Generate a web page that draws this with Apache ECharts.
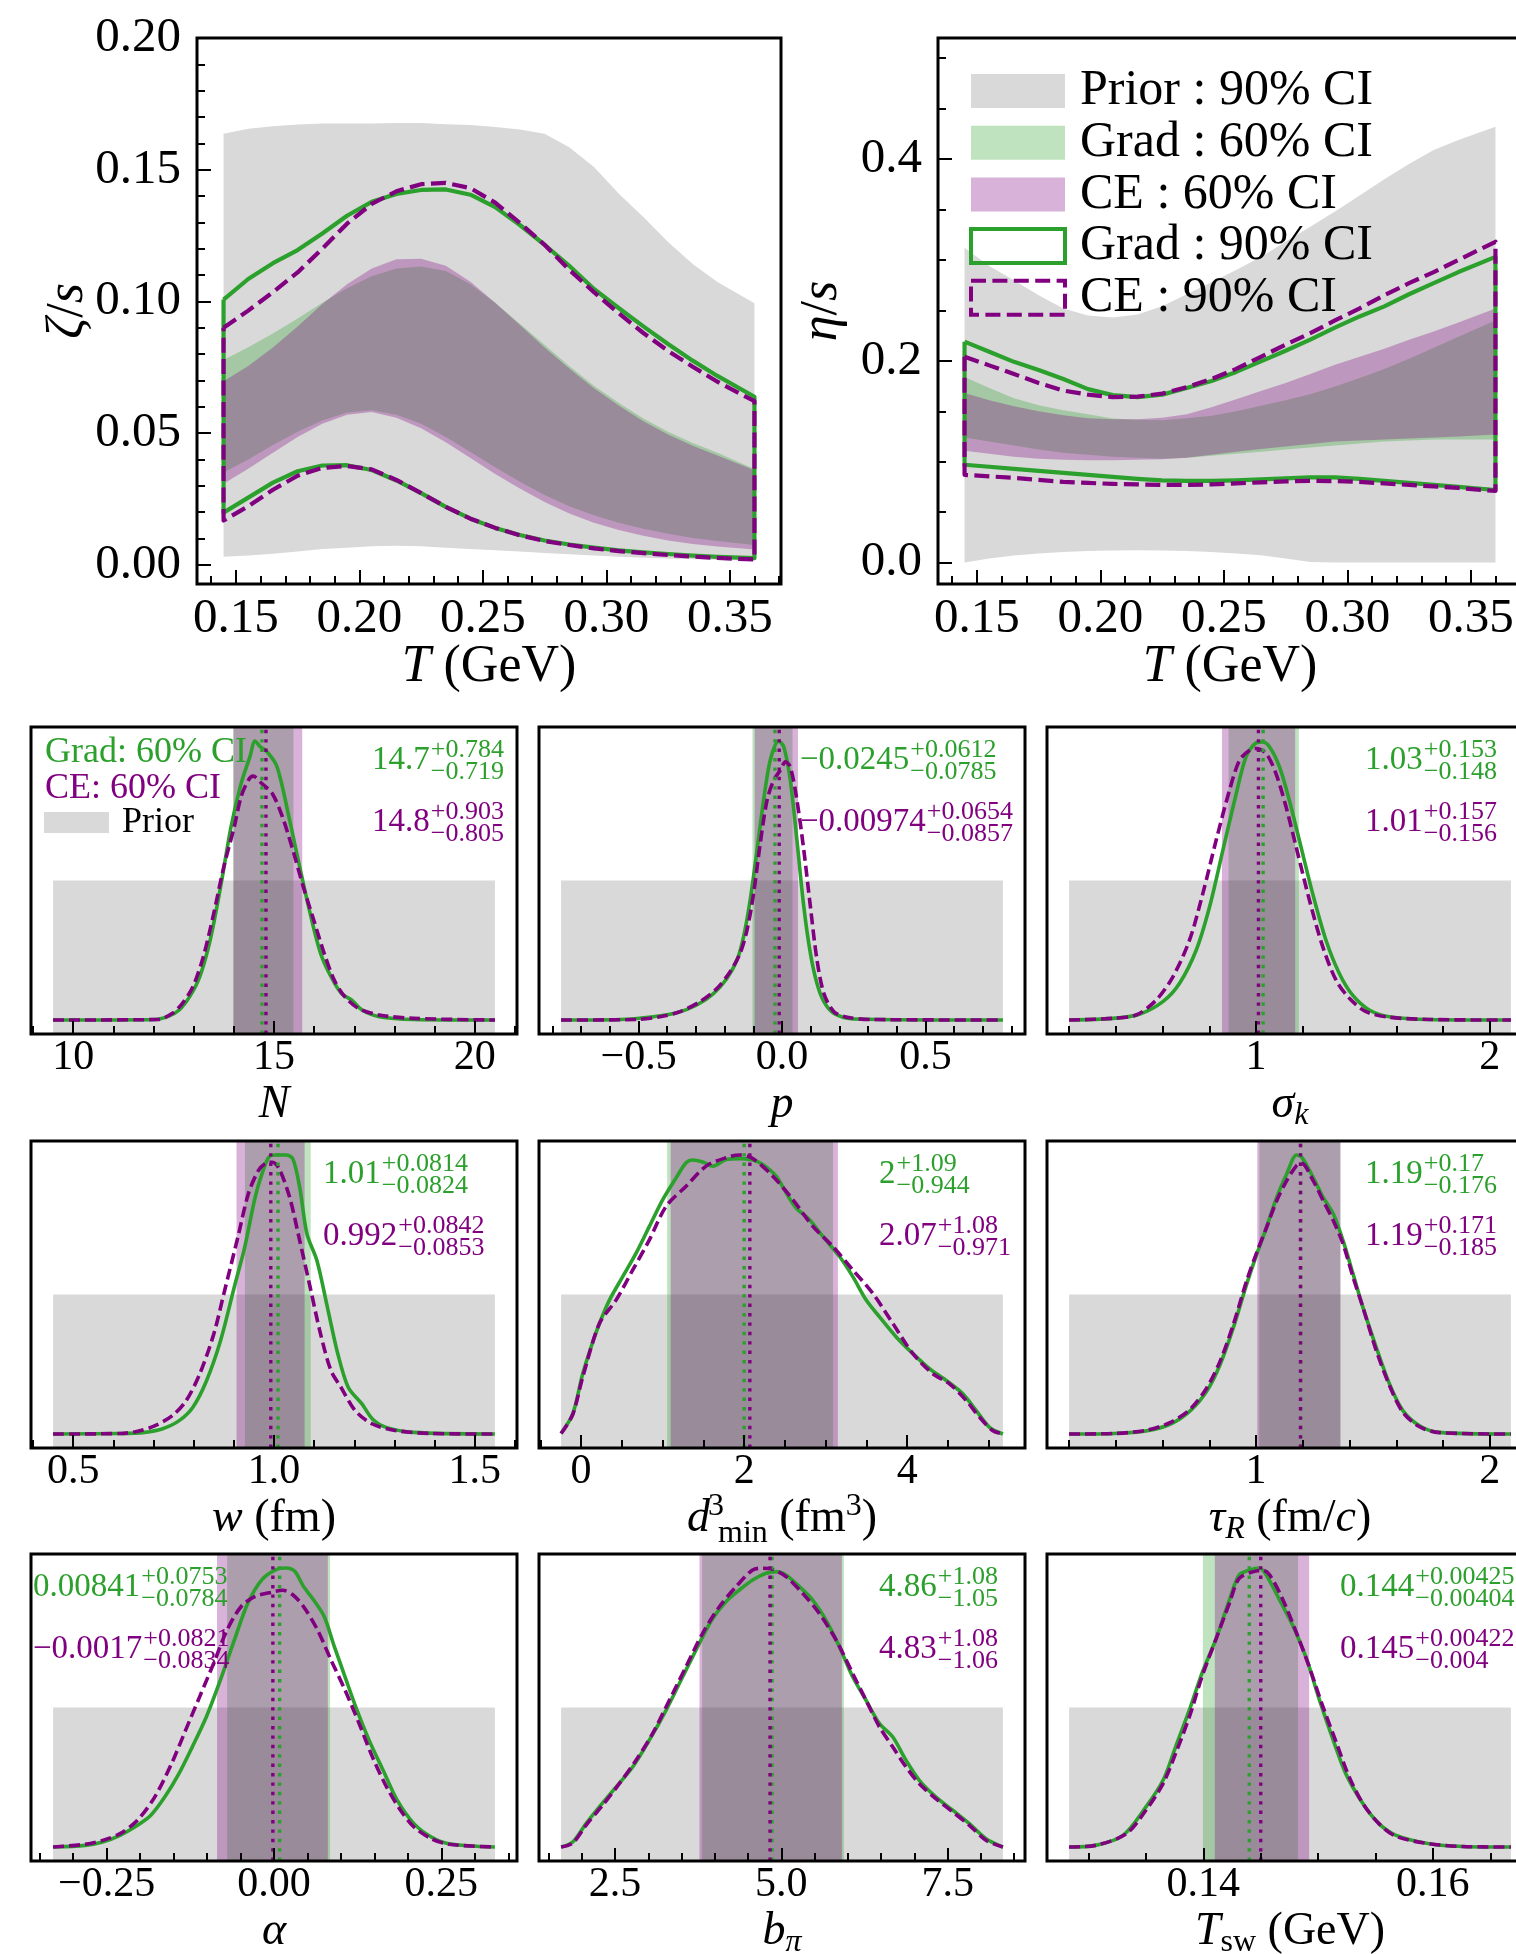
<!DOCTYPE html>
<html>
<head>
<meta charset="utf-8">
<title>Grad vs CE posteriors</title>
<script src="https://cdn.jsdelivr.net/npm/echarts@6.0.0/dist/echarts.min.js"></script>
<style>
  html, body { margin: 0; padding: 0; background: #ffffff; }
  #chart { width: 1516px; height: 1954px; }
</style>
</head>
<body>
<div id="chart"></div>
<script>
// ================= data =================
// Temperature grid (GeV) for the bulk / shear viscosity bands
const T_GRID = [0.145, 0.155, 0.165, 0.175, 0.185, 0.195, 0.205, 0.215, 0.225, 0.235, 0.245,
                0.255, 0.265, 0.275, 0.285, 0.295, 0.305, 0.315, 0.325, 0.335, 0.345, 0.36];

// zeta/s
const ZETA_PRIOR_LO = [0.003, 0.0035, 0.0042, 0.005, 0.006, 0.0065, 0.007, 0.0072, 0.007, 0.0065, 0.006, 0.0055, 0.005, 0.0045, 0.004, 0.0035, 0.003, 0.0027, 0.0024, 0.0021, 0.0019, 0.0016];
const ZETA_PRIOR_HI = [0.1636, 0.1655, 0.1665, 0.1672, 0.1675, 0.1675, 0.1675, 0.1677, 0.1677, 0.1673, 0.167, 0.1662, 0.1653, 0.1636, 0.1585, 0.151, 0.141, 0.132, 0.1225, 0.1142, 0.1074, 0.0993];
const ZETA_GRAD60_LO = [0.035, 0.04, 0.0455, 0.0505, 0.0548, 0.0578, 0.0587, 0.057, 0.0535, 0.0485, 0.0428, 0.037, 0.0315, 0.0265, 0.0222, 0.0188, 0.016, 0.0137, 0.0118, 0.0102, 0.009, 0.0075];
const ZETA_GRAD60_HI = [0.0777, 0.0826, 0.0878, 0.0935, 0.0995, 0.105, 0.1095, 0.1125, 0.1132, 0.1115, 0.1065, 0.0995, 0.0915, 0.0835, 0.0755, 0.068, 0.0615, 0.0555, 0.0505, 0.0462, 0.0425, 0.0364];
const ZETA_CE60_LO = [0.0308, 0.0365, 0.0425, 0.0485, 0.0535, 0.057, 0.058, 0.0558, 0.0518, 0.0465, 0.0405, 0.0345, 0.029, 0.0238, 0.0195, 0.016, 0.0132, 0.011, 0.0092, 0.0079, 0.0069, 0.0058];
const ZETA_CE60_HI = [0.0697, 0.0755, 0.0825, 0.0905, 0.099, 0.1065, 0.1125, 0.116, 0.1162, 0.1135, 0.1075, 0.0995, 0.091, 0.0825, 0.0745, 0.067, 0.0605, 0.0545, 0.0495, 0.0452, 0.0415, 0.0359];
const ZETA_GRAD90_LO = [0.0198, 0.0255, 0.0312, 0.0355, 0.0377, 0.0378, 0.036, 0.032, 0.0272, 0.022, 0.0175, 0.014, 0.0113, 0.0092, 0.0077, 0.0065, 0.0055, 0.0047, 0.0041, 0.0035, 0.003, 0.0025];
const ZETA_GRAD90_HI = [0.1007, 0.1085, 0.1145, 0.1195, 0.1258, 0.1325, 0.1378, 0.1408, 0.1423, 0.1425, 0.1405, 0.1358, 0.129, 0.1215, 0.1135, 0.1047, 0.0975, 0.0905, 0.0838, 0.0775, 0.0717, 0.0638];
const ZETA_CE90_LO = [0.0168, 0.0222, 0.0285, 0.0338, 0.0368, 0.0375, 0.0362, 0.0322, 0.0272, 0.022, 0.0175, 0.014, 0.0112, 0.009, 0.0075, 0.0062, 0.0052, 0.0044, 0.0037, 0.0031, 0.0026, 0.002];
const ZETA_CE90_HI = [0.09, 0.0965, 0.1035, 0.111, 0.12, 0.1295, 0.137, 0.1418, 0.1445, 0.145, 0.143, 0.1375, 0.1298, 0.1215, 0.112, 0.1035, 0.0955, 0.088, 0.0812, 0.0752, 0.0695, 0.0621];

// eta/s
const ETA_PRIOR_LO = [0.0, 0.004, 0.007, 0.009, 0.0105, 0.0115, 0.012, 0.0122, 0.012, 0.0115, 0.0105, 0.009, 0.0072, 0.004, 0.0005, 0, 0, 0, 0, 0, 0, 0];
const ETA_PRIOR_HI = [0.312, 0.294, 0.28, 0.265, 0.252, 0.245, 0.243, 0.246, 0.254, 0.266, 0.278, 0.29, 0.303, 0.318, 0.333, 0.348, 0.364, 0.38, 0.395, 0.409, 0.419, 0.432];
const ETA_GRAD60_LO = [0.124, 0.12, 0.116, 0.112, 0.109, 0.107, 0.105, 0.104, 0.103, 0.104, 0.106, 0.108, 0.11, 0.112, 0.114, 0.116, 0.118, 0.12, 0.121, 0.122, 0.122, 0.122];
const ETA_GRAD60_HI = [0.184, 0.173, 0.163, 0.156, 0.151, 0.147, 0.1428, 0.1415, 0.141, 0.143, 0.1455, 0.15, 0.1555, 0.161, 0.167, 0.1745, 0.183, 0.192, 0.202, 0.213, 0.224, 0.24];
const ETA_CE60_LO = [0.111, 0.108, 0.105, 0.103, 0.102, 0.1015, 0.1015, 0.102, 0.1025, 0.104, 0.107, 0.11, 0.1125, 0.115, 0.1175, 0.12, 0.121, 0.122, 0.123, 0.124, 0.125, 0.127];
const ETA_CE60_HI = [0.168, 0.161, 0.155, 0.15, 0.146, 0.143, 0.142, 0.142, 0.1435, 0.147, 0.154, 0.162, 0.17, 0.178, 0.187, 0.196, 0.204, 0.212, 0.221, 0.229, 0.238, 0.252];
const ETA_GRAD90_LO = [0.097, 0.095, 0.093, 0.091, 0.089, 0.087, 0.085, 0.083, 0.0815, 0.081, 0.081, 0.0815, 0.0825, 0.0835, 0.0845, 0.0845, 0.083, 0.081, 0.079, 0.077, 0.075, 0.072];
const ETA_GRAD90_HI = [0.219, 0.209, 0.199, 0.191, 0.182, 0.172, 0.166, 0.164, 0.1665, 0.173, 0.18, 0.189, 0.1995, 0.21, 0.221, 0.233, 0.244, 0.254, 0.266, 0.277, 0.288, 0.303];
const ETA_CE90_LO = [0.087, 0.0855, 0.084, 0.082, 0.08, 0.079, 0.078, 0.0775, 0.077, 0.077, 0.0775, 0.0785, 0.0795, 0.0805, 0.081, 0.0808, 0.08, 0.0785, 0.077, 0.0755, 0.074, 0.071];
const ETA_CE90_HI = [0.204, 0.1955, 0.187, 0.178, 0.1705, 0.1665, 0.164, 0.1645, 0.1675, 0.174, 0.182, 0.192, 0.204, 0.216, 0.2275, 0.24, 0.252, 0.265, 0.277, 0.288, 0.3, 0.318];

// Marginal posteriors (density scaled to the tallest curve of each parameter)
const N_GRAD = [[9.5,0],[12.04,0.002],[12.38,0.014],[12.64,0.036],[12.9,0.084],[13.15,0.155],[13.41,0.286],[13.67,0.477],[13.93,0.692],[14.18,0.847],[14.4,0.943],[14.53,1.0],[14.66,0.979],[14.79,0.967],[15.04,0.919],[15.17,0.859],[15.39,0.716],[15.64,0.549],[15.9,0.382],[16.16,0.239],[16.42,0.155],[16.68,0.095],[16.93,0.072],[17.19,0.036],[17.62,0.012],[18.48,0.002],[20.5,0]];
const N_CE = [[9.5,0],[12.12,0.002],[12.47,0.024],[12.72,0.06],[12.98,0.119],[13.24,0.227],[13.5,0.382],[13.75,0.549],[14.01,0.692],[14.18,0.8],[14.36,0.859],[14.48,0.874],[14.7,0.847],[14.96,0.811],[15.21,0.728],[15.47,0.609],[15.73,0.477],[15.99,0.358],[16.25,0.239],[16.5,0.143],[16.76,0.084],[17.1,0.042],[17.62,0.018],[18.48,0.006],[20.5,0]];
const P_GRAD = [[-0.77,0],[-0.565,0.002],[-0.449,0.012],[-0.367,0.026],[-0.297,0.054],[-0.239,0.095],[-0.192,0.149],[-0.157,0.215],[-0.134,0.298],[-0.111,0.43],[-0.087,0.609],[-0.064,0.788],[-0.041,0.931],[-0.012,1.0],[0.006,0.979],[0.029,0.859],[0.052,0.644],[0.076,0.406],[0.099,0.239],[0.122,0.131],[0.146,0.066],[0.181,0.024],[0.251,0.004],[0.77,0]];
const P_CE = [[-0.77,0],[-0.507,0.002],[-0.425,0.012],[-0.355,0.03],[-0.286,0.066],[-0.227,0.113],[-0.181,0.173],[-0.146,0.239],[-0.122,0.322],[-0.099,0.453],[-0.076,0.632],[-0.052,0.788],[-0.029,0.859],[-0.006,0.895],[0.012,0.925],[0.029,0.907],[0.052,0.788],[0.076,0.609],[0.099,0.406],[0.122,0.215],[0.146,0.095],[0.181,0.03],[0.227,0.01],[0.309,0.002],[0.77,0]];
const SIG_GRAD = [[0.2,0],[0.387,0.006],[0.501,0.021],[0.601,0.066],[0.672,0.131],[0.744,0.251],[0.801,0.406],[0.858,0.609],[0.915,0.811],[0.957,0.943],[1.0,0.993],[1.028,0.996],[1.057,0.979],[1.1,0.907],[1.142,0.788],[1.185,0.644],[1.242,0.453],[1.299,0.286],[1.356,0.167],[1.413,0.089],[1.484,0.036],[1.57,0.012],[1.74,0.002],[2.09,0]];
const SIG_CE = [[0.2,0],[0.387,0.006],[0.487,0.018],[0.573,0.072],[0.644,0.155],[0.715,0.286],[0.772,0.453],[0.829,0.644],[0.886,0.823],[0.929,0.931],[0.972,0.967],[1.0,0.973],[1.043,0.955],[1.085,0.883],[1.128,0.764],[1.171,0.621],[1.228,0.43],[1.285,0.263],[1.342,0.143],[1.399,0.078],[1.47,0.03],[1.57,0.01],[1.74,0.002],[2.09,0]];
const W_GRAD = [[0.45,0],[0.618,0.002],[0.678,0.006],[0.721,0.018],[0.764,0.048],[0.798,0.096],[0.832,0.191],[0.867,0.335],[0.901,0.526],[0.927,0.669],[0.953,0.848],[0.97,0.932],[0.987,0.992],[1.004,1.0],[1.03,1.0],[1.047,0.986],[1.064,0.884],[1.082,0.717],[1.107,0.621],[1.133,0.454],[1.159,0.287],[1.185,0.167],[1.219,0.108],[1.245,0.054],[1.279,0.024],[1.348,0.006],[1.55,0]];
const W_CE = [[0.45,0],[0.618,0.002],[0.661,0.01],[0.704,0.03],[0.747,0.066],[0.781,0.119],[0.815,0.215],[0.85,0.358],[0.875,0.502],[0.91,0.705],[0.936,0.86],[0.961,0.944],[0.979,0.97],[0.996,0.974],[1.013,0.95],[1.039,0.848],[1.064,0.693],[1.09,0.526],[1.116,0.358],[1.142,0.227],[1.167,0.167],[1.202,0.084],[1.245,0.036],[1.305,0.012],[1.391,0.002],[1.55,0]];
const D_GRAD = [[-0.245,0.002],[-0.102,0.072],[0.02,0.216],[0.123,0.312],[0.225,0.396],[0.348,0.48],[0.511,0.564],[0.675,0.648],[0.838,0.744],[1.002,0.84],[1.166,0.918],[1.288,0.972],[1.37,0.982],[1.493,0.975],[1.616,0.96],[1.779,0.984],[1.943,0.987],[2.106,0.982],[2.229,0.966],[2.393,0.924],[2.515,0.864],[2.638,0.81],[2.802,0.768],[2.965,0.708],[3.17,0.636],[3.333,0.564],[3.497,0.48],[3.66,0.42],[3.865,0.348],[4.07,0.288],[4.274,0.234],[4.479,0.192],[4.683,0.144],[4.847,0.084],[5.01,0.024],[5.174,0.0]];
const D_CE = [[-0.245,0.002],[-0.102,0.07],[0.02,0.204],[0.225,0.396],[0.429,0.48],[0.634,0.588],[0.838,0.696],[1.043,0.816],[1.288,0.888],[1.534,0.96],[1.779,0.99],[1.943,1.0],[2.106,0.987],[2.352,0.924],[2.597,0.84],[2.843,0.744],[3.088,0.672],[3.333,0.588],[3.579,0.504],[3.824,0.396],[4.07,0.288],[4.315,0.216],[4.519,0.18],[4.724,0.12],[4.888,0.06],[5.051,0.012],[5.174,0.0]];
const TAU_GRAD = [[0.2,0],[0.392,0.002],[0.534,0.012],[0.634,0.036],[0.719,0.084],[0.79,0.155],[0.847,0.251],[0.903,0.382],[0.96,0.538],[1.003,0.645],[1.045,0.741],[1.088,0.848],[1.131,0.932],[1.173,1.0],[1.195,0.992],[1.244,0.92],[1.287,0.848],[1.33,0.789],[1.372,0.693],[1.415,0.573],[1.457,0.454],[1.514,0.311],[1.571,0.179],[1.628,0.084],[1.699,0.03],[1.784,0.006],[2.09,0]];
const TAU_CE = [[0.2,0],[0.392,0.002],[0.534,0.014],[0.634,0.042],[0.719,0.09],[0.79,0.167],[0.847,0.263],[0.903,0.394],[0.96,0.55],[1.003,0.651],[1.045,0.741],[1.088,0.836],[1.131,0.908],[1.173,0.962],[1.195,0.97],[1.244,0.908],[1.287,0.836],[1.33,0.765],[1.372,0.681],[1.415,0.561],[1.457,0.454],[1.514,0.299],[1.571,0.173],[1.628,0.078],[1.699,0.026],[1.784,0.005],[2.09,0]];
const ALPHA_GRAD = [[-0.33,0],[-0.282,0.006],[-0.256,0.018],[-0.23,0.042],[-0.204,0.078],[-0.184,0.114],[-0.163,0.18],[-0.142,0.263],[-0.122,0.359],[-0.101,0.467],[-0.08,0.599],[-0.059,0.743],[-0.039,0.874],[-0.018,0.958],[0.003,0.994],[0.018,1.0],[0.031,0.988],[0.044,0.934],[0.059,0.886],[0.075,0.826],[0.09,0.719],[0.106,0.611],[0.122,0.503],[0.142,0.383],[0.163,0.275],[0.184,0.168],[0.209,0.084],[0.235,0.036],[0.261,0.012],[0.33,0]];
const ALPHA_CE = [[-0.33,0],[-0.282,0.01],[-0.256,0.024],[-0.23,0.048],[-0.204,0.096],[-0.178,0.18],[-0.153,0.299],[-0.132,0.419],[-0.111,0.539],[-0.09,0.659],[-0.07,0.778],[-0.049,0.862],[-0.028,0.898],[-0.003,0.913],[0.013,0.92],[0.028,0.904],[0.044,0.862],[0.065,0.778],[0.085,0.671],[0.106,0.563],[0.127,0.443],[0.147,0.323],[0.168,0.216],[0.189,0.132],[0.209,0.072],[0.235,0.03],[0.261,0.01],[0.33,0]];
const B_GRAD = [[1.69,0],[1.864,0.018],[2.064,0.084],[2.265,0.144],[2.515,0.215],[2.766,0.287],[3.016,0.383],[3.267,0.49],[3.517,0.61],[3.768,0.73],[3.968,0.819],[4.168,0.879],[4.369,0.921],[4.569,0.957],[4.77,0.981],[4.92,0.987],[5.07,0.975],[5.271,0.933],[5.471,0.885],[5.671,0.813],[5.872,0.718],[6.072,0.61],[6.273,0.526],[6.473,0.443],[6.673,0.395],[6.874,0.311],[7.074,0.239],[7.325,0.179],[7.575,0.132],[7.826,0.084],[8.076,0.03],[8.33,0]];
const B_CE = [[1.69,0],[1.864,0.014],[2.064,0.078],[2.315,0.15],[2.565,0.227],[2.816,0.311],[3.066,0.407],[3.317,0.526],[3.567,0.646],[3.818,0.766],[4.068,0.861],[4.319,0.933],[4.569,0.993],[4.719,0.999],[4.87,0.995],[5.07,0.969],[5.321,0.909],[5.571,0.837],[5.822,0.742],[6.072,0.622],[6.273,0.526],[6.473,0.431],[6.673,0.359],[6.874,0.287],[7.074,0.227],[7.325,0.173],[7.575,0.126],[7.826,0.078],[8.076,0.024],[8.33,0]];
const TSW_GRAD = [[0.1283,0],[0.1306,0.006],[0.133,0.042],[0.135,0.144],[0.1365,0.24],[0.1376,0.361],[0.1388,0.493],[0.1399,0.625],[0.1411,0.745],[0.1423,0.889],[0.1431,0.974],[0.144,0.992],[0.1449,1.0],[0.1455,0.974],[0.1466,0.889],[0.1478,0.793],[0.149,0.673],[0.1501,0.529],[0.1513,0.385],[0.1524,0.264],[0.1539,0.156],[0.1553,0.084],[0.1568,0.042],[0.1597,0.012],[0.1626,0.002],[0.1668,0]];
const TSW_CE = [[0.1283,0],[0.1306,0.006],[0.1333,0.048],[0.135,0.132],[0.1365,0.228],[0.1376,0.337],[0.1388,0.469],[0.1399,0.613],[0.1411,0.745],[0.1423,0.877],[0.1431,0.962],[0.1443,0.986],[0.1452,0.992],[0.1458,0.974],[0.1469,0.889],[0.1481,0.769],[0.1492,0.649],[0.1504,0.505],[0.1516,0.373],[0.1527,0.252],[0.1539,0.156],[0.1553,0.084],[0.1568,0.038],[0.1597,0.012],[0.1626,0.002],[0.1668,0]];

// Uniform prior ranges of the model parameters
const N_PRIOR = [9.5, 20.5], P_PRIOR = [-0.77, 0.77], SIG_PRIOR = [0.2, 2.09], W_PRIOR = [0.45, 1.55];
const D_PRIOR = [-0.245, 5.174], TAU_PRIOR = [0.2, 2.09], ALPHA_PRIOR = [-0.33, 0.33];
const B_PRIOR = [1.69, 8.33], TSW_PRIOR = [0.1283, 0.1668];
const PRIOR_HEIGHT = 0.5;

// Median, +upper, -lower of the 60% intervals: [median, plus, minus]
const N_STAT_GRAD = [14.7, 0.784, 0.719],      N_STAT_CE = [14.8, 0.903, 0.805];
const P_STAT_GRAD = [-0.0245, 0.0612, 0.0785], P_STAT_CE = [-0.00974, 0.0654, 0.0857];
const SIG_STAT_GRAD = [1.03, 0.153, 0.148],    SIG_STAT_CE = [1.01, 0.157, 0.156];
const W_STAT_GRAD = [1.01, 0.0814, 0.0824],    W_STAT_CE = [0.992, 0.0842, 0.0853];
const D_STAT_GRAD = [2, 1.09, 0.944],          D_STAT_CE = [2.07, 1.08, 0.971];
const TAU_STAT_GRAD = [1.19, 0.17, 0.176],     TAU_STAT_CE = [1.19, 0.171, 0.185];
const ALPHA_STAT_GRAD = [0.00841, 0.0753, 0.0784], ALPHA_STAT_CE = [-0.0017, 0.0821, 0.0834];
const B_STAT_GRAD = [4.86, 1.08, 1.05],        B_STAT_CE = [4.83, 1.08, 1.06];
const TSW_STAT_GRAD = [0.144, 0.00425, 0.00404], TSW_STAT_CE = [0.145, 0.00422, 0.004];

// Tick labels
const T_TICKS = [0.15, 0.2, 0.25, 0.3, 0.35];
const ZETA_TICKS = [0, 0.05, 0.1, 0.15, 0.2];
const ETA_TICKS = [0, 0.2, 0.4];
const N_TICKS = [10, 15, 20], P_TICKS = [-0.5, 0, 0.5], SIG_TICKS = [1, 2], W_TICKS = [0.5, 1.0, 1.5];
const D_TICKS = [0, 2, 4], TAU_TICKS = [1, 2], ALPHA_TICKS = [-0.25, 0, 0.25];
const B_TICKS = [2.5, 5.0, 7.5], TSW_TICKS = [0.14, 0.16];

// Legend entries
const TOP_LEGEND = ['Prior : 90% CI', 'Grad : 60% CI', 'CE : 60% CI', 'Grad : 90% CI', 'CE : 90% CI'];

// ================= styling =================
const FONT = '"Liberation Serif", "Times New Roman", serif';
const GREEN = '#2ca02c', PURPLE = '#800080', PRIOR_GRAY = '#d9d9d9';
const GREEN_FILL = 'rgba(44,160,44,0.3)', PURPLE_FILL = 'rgba(128,0,128,0.3)';

const TOP_BOXES = [{ left: 197, top: 38, width: 584, height: 546 },
                   { left: 938, top: 38, width: 584, height: 546 }];
const COL_LEFT = [31, 539, 1047], ROW_TOP = [727, 1141, 1554];
const BOX_W = 486, BOX_H = 307;
const T_RANGE = [0.13425, 0.37075];

function steps(a, b, d) {
  const out = [], n = Math.round((b - a) / d);
  for (let i = 0; i <= n; i++) out.push(+(a + i * d).toFixed(6));
  return out;
}
function signed(v) { return (v < 0 ? '\u2212' : '') + String(Math.abs(v)); }
function tickText(v, dec) {
  return (v < -1e-12 ? '\u2212' : '') + Math.abs(v).toFixed(dec);
}

// Rich-text styles for math-like axis titles: every token is centred on the
// line, sub/superscripts are pushed down/up through asymmetric padding.
function makeRich(F, s, L) {
  const base = { fontFamily: FONT, color: '#000', lineHeight: L };
  const mk = extra => Object.assign({}, base, extra);
  return {
    i:    mk({ fontSize: F, fontStyle: 'italic' }),
    r:    mk({ fontSize: F }),
    sub:  mk({ fontSize: s, fontStyle: 'italic', padding: [22, 0, 0, 0] }),
    subr: mk({ fontSize: s, padding: [22, 0, 0, 0] }),
    sub2: mk({ fontSize: s, padding: [30, 0, 0, 2] }),
    sup:  mk({ fontSize: s, padding: [0, 0, 24, 0] }),
    sup0: mk({ fontSize: s, padding: [0, 0, 24, 6], width: 0, align: 'left' })
  };
}
const TOP_RICH = makeRich(52, 36, 52);
const BOT_RICH = makeRich(46, 32, 70);

const option = {
  animation: false,
  backgroundColor: '#ffffff',
  grid: [], xAxis: [], yAxis: [], series: [], graphic: []
};

function addGrid(b) {
  option.grid.push({ left: b.left, top: b.top, width: b.width, height: b.height,
    show: false, containLabel: false, outerBoundsMode: 'none' });
  return option.grid.length - 1;
}

function addXAxes(g, c) {
  const idx = option.xAxis.length;
  option.xAxis.push({
    gridIndex: g, type: 'value', position: 'bottom', min: c.min, max: c.max, z: 10,
    name: c.name, nameLocation: 'middle', nameGap: c.nameGap, nameMoveOverlap: false,
    nameTextStyle: { fontFamily: FONT, fontSize: c.nameFs, color: '#000', rich: c.rich },
    axisLine: { show: false, onZero: false },
    axisTick: { show: true, inside: true, length: c.majLen, customValues: c.majors,
                lineStyle: { color: '#000', width: 2 } },
    axisLabel: { show: true, customValues: c.majors, margin: c.margin, color: '#000',
                 fontFamily: FONT, fontSize: c.fs, formatter: v => tickText(v, c.dec) },
    splitLine: { show: false }, minorTick: { show: false }
  });
  option.xAxis.push({
    gridIndex: g, type: 'value', position: 'bottom', min: c.min, max: c.max, z: 10,
    axisLine: { show: false, onZero: false },
    axisTick: { show: true, inside: true, length: c.minLen, customValues: c.minors,
                lineStyle: { color: '#000', width: 2 } },
    axisLabel: { show: false }, splitLine: { show: false }
  });
  return idx;
}

function addYAxes(g, c) {
  const idx = option.yAxis.length;
  if (!c.majors) {
    option.yAxis.push({ gridIndex: g, type: 'value', position: 'left', min: c.min, max: c.max,
      show: false, axisLine: { show: false, onZero: false }, splitLine: { show: false } });
    return idx;
  }
  option.yAxis.push({
    gridIndex: g, type: 'value', position: 'left', min: c.min, max: c.max, z: 10,
    name: c.name, nameLocation: 'middle', nameGap: c.nameGap, nameRotate: 90, nameMoveOverlap: false,
    nameTextStyle: { fontFamily: FONT, fontSize: c.nameFs, color: '#000', rich: c.rich },
    axisLine: { show: false, onZero: false },
    axisTick: { show: true, inside: true, length: c.majLen, customValues: c.majors,
                lineStyle: { color: '#000', width: 2 } },
    axisLabel: { show: true, customValues: c.majors, margin: c.margin, color: '#000',
                 fontFamily: FONT, fontSize: c.fs, formatter: v => tickText(v, c.dec) },
    splitLine: { show: false }
  });
  option.yAxis.push({
    gridIndex: g, type: 'value', position: 'left', min: c.min, max: c.max, z: 10,
    axisLine: { show: false, onZero: false },
    axisTick: { show: true, inside: true, length: c.minLen, customValues: c.minors,
                lineStyle: { color: '#000', width: 2 } },
    axisLabel: { show: false }, splitLine: { show: false }
  });
  return idx;
}

// Filled band between two curves sampled on a shared x grid
function bandPolygon(xi, yi, xs, lo, hi, fill, z) {
  return {
    type: 'custom', xAxisIndex: xi, yAxisIndex: yi, z: z, silent: true,
    data: [[xs[0], lo[0]]],
    renderItem: (params, api) => {
      const pts = [];
      for (let i = 0; i < xs.length; i++) pts.push(api.coord([xs[i], hi[i]]));
      for (let i = xs.length - 1; i >= 0; i--) pts.push(api.coord([xs[i], lo[i]]));
      return { type: 'polygon', shape: { points: pts }, style: { fill: fill } };
    }
  };
}

// Closed outline of a band (upper edge, right side, lower edge, left side)
function outlineSeries(xi, yi, xs, lo, hi, color, dash, width, z) {
  const pts = [];
  for (let i = 0; i < xs.length; i++) pts.push([xs[i], hi[i]]);
  for (let i = xs.length - 1; i >= 0; i--) pts.push([xs[i], lo[i]]);
  pts.push([xs[0], hi[0]]);
  return {
    type: 'line', xAxisIndex: xi, yAxisIndex: yi, z: z, silent: true, data: pts,
    showSymbol: false, symbol: 'none', smooth: false,
    lineStyle: { color: color, width: width, type: dash, join: 'round', cap: 'butt' }
  };
}

function curveSeries(xi, yi, pts, color, dash, width, z) {
  return {
    type: 'line', xAxisIndex: xi, yAxisIndex: yi, z: z, silent: true, data: pts,
    showSymbol: false, symbol: 'none', smooth: 0.3,
    lineStyle: { color: color, width: width, type: dash, join: 'round', cap: 'butt' }
  };
}

// Prior box: from the bottom of the panel up to the prior density
function priorRect(xi, yi, range, h, z) {
  return {
    type: 'custom', xAxisIndex: xi, yAxisIndex: yi, z: z, silent: true,
    data: [[range[0], h]],
    renderItem: (params, api) => {
      const cs = params.coordSys;
      const a = api.coord([range[0], h]), b = api.coord([range[1], h]);
      return { type: 'rect', shape: { x: a[0], y: a[1], width: b[0] - a[0], height: cs.y + cs.height - a[1] },
               style: { fill: PRIOR_GRAY } };
    }
  };
}

// Vertical span over the whole panel height
function spanRect(xi, yi, lo, hi, fill, z) {
  return {
    type: 'custom', xAxisIndex: xi, yAxisIndex: yi, z: z, silent: true,
    data: [[lo, 0]],
    renderItem: (params, api) => {
      const cs = params.coordSys;
      const x0 = api.coord([lo, 0])[0], x1 = api.coord([hi, 0])[0];
      return { type: 'rect', shape: { x: x0, y: cs.y, width: x1 - x0, height: cs.height },
               style: { fill: fill } };
    }
  };
}

function medianLine(xi, yi, m, color, z) {
  return {
    type: 'custom', xAxisIndex: xi, yAxisIndex: yi, z: z, silent: true,
    data: [[m, 0]],
    renderItem: (params, api) => {
      const cs = params.coordSys;
      const x = api.coord([m, 0])[0];
      return { type: 'line', shape: { x1: x, y1: cs.y + cs.height, x2: x, y2: cs.y },
               style: { stroke: color, lineWidth: 3.4, lineDash: [3.4, 6] } };
    }
  };
}

function frameSeries(xi, yi, x, y) {
  return {
    type: 'custom', xAxisIndex: xi, yAxisIndex: yi, z: 9, silent: true,
    data: [[x, y]],
    renderItem: (params) => {
      const cs = params.coordSys;
      return { type: 'rect', shape: { x: cs.x, y: cs.y, width: cs.width, height: cs.height },
               style: { fill: 'none', stroke: '#000', lineWidth: 3 } };
    }
  };
}

// ---------- top row: transport coefficients vs temperature ----------
const TOP_PANELS = [
  { box: TOP_BOXES[0], yRange: [-0.0073, 0.2], yMajors: ZETA_TICKS, yMinors: steps(0, 0.2, 0.01), yDec: 2,
    name: '{i|ζ}{r|/}{i|s}', nameGap: 103,
    prior: [ZETA_PRIOR_LO, ZETA_PRIOR_HI], g60: [ZETA_GRAD60_LO, ZETA_GRAD60_HI], c60: [ZETA_CE60_LO, ZETA_CE60_HI],
    g90: [ZETA_GRAD90_LO, ZETA_GRAD90_HI], c90: [ZETA_CE90_LO, ZETA_CE90_HI] },
  { box: TOP_BOXES[1], yRange: [-0.0212, 0.52], yMajors: ETA_TICKS, yMinors: steps(0, 0.5, 0.05), yDec: 1,
    name: '{i|η}{r|/}{i|s}', nameGap: 90,
    prior: [ETA_PRIOR_LO, ETA_PRIOR_HI], g60: [ETA_GRAD60_LO, ETA_GRAD60_HI], c60: [ETA_CE60_LO, ETA_CE60_HI],
    g90: [ETA_GRAD90_LO, ETA_GRAD90_HI], c90: [ETA_CE90_LO, ETA_CE90_HI] }
];

TOP_PANELS.forEach(p => {
  const g = addGrid(p.box);
  const xi = addXAxes(g, { min: T_RANGE[0], max: T_RANGE[1], majors: T_TICKS, minors: steps(0.14, 0.37, 0.01),
    dec: 2, fs: 49, margin: 11, majLen: 14, minLen: 8,
    name: '{i|T}{r| (GeV)}', nameGap: 57, nameFs: 52, rich: TOP_RICH });
  const yi = addYAxes(g, { min: p.yRange[0], max: p.yRange[1], majors: p.yMajors, minors: p.yMinors,
    dec: p.yDec, fs: 49, margin: 16, majLen: 14, minLen: 8,
    name: p.name, nameGap: p.nameGap, nameFs: 52, rich: TOP_RICH });
  option.series.push(bandPolygon(xi, yi, T_GRID, p.prior[0], p.prior[1], PRIOR_GRAY, 1));
  option.series.push(bandPolygon(xi, yi, T_GRID, p.g60[0], p.g60[1], GREEN_FILL, 2));
  option.series.push(bandPolygon(xi, yi, T_GRID, p.c60[0], p.c60[1], PURPLE_FILL, 3));
  option.series.push(outlineSeries(xi, yi, T_GRID, p.g90[0], p.g90[1], GREEN, 'solid', 4.2, 4));
  option.series.push(outlineSeries(xi, yi, T_GRID, p.c90[0], p.c90[1], PURPLE, [15, 6.4], 4.2, 5));
  option.series.push(frameSeries(xi, yi, T_GRID[0], p.yRange[0]));
});

// ---------- bottom rows: marginal posteriors of the parameters ----------
const PARAM_PANELS = [
  { col: 0, row: 0, prior: N_PRIOR, grad: N_GRAD, ce: N_CE, sg: N_STAT_GRAD, sc: N_STAT_CE,
    majors: N_TICKS, minors: steps(9, 21, 1), dec: 0, name: '{i|N}', labelDx: 341 },
  { col: 1, row: 0, prior: P_PRIOR, grad: P_GRAD, ce: P_CE, sg: P_STAT_GRAD, sc: P_STAT_CE,
    majors: P_TICKS, minors: steps(-0.8, 0.8, 0.1), dec: 1, name: '{i|p}', labelDx: 261 },
  { col: 2, row: 0, prior: SIG_PRIOR, grad: SIG_GRAD, ce: SIG_CE, sg: SIG_STAT_GRAD, sc: SIG_STAT_CE,
    majors: SIG_TICKS, minors: steps(0.2, 2.0, 0.2), dec: 0, name: '{i|σ}{sub|k}', labelDx: 318 },
  { col: 0, row: 1, prior: W_PRIOR, grad: W_GRAD, ce: W_CE, sg: W_STAT_GRAD, sc: W_STAT_CE,
    majors: W_TICKS, minors: steps(0.4, 1.6, 0.1), dec: 1, name: '{i|w}{r| (fm)}', labelDx: 292 },
  { col: 1, row: 1, prior: D_PRIOR, grad: D_GRAD, ce: D_CE, sg: D_STAT_GRAD, sc: D_STAT_CE,
    majors: D_TICKS, minors: steps(-0.5, 5, 0.5), dec: 0,
    name: '{i|d}{sup0|3}{sub2|min}{r| (fm}{sup|3}{r|)}', labelDx: 340 },
  { col: 2, row: 1, prior: TAU_PRIOR, grad: TAU_GRAD, ce: TAU_CE, sg: TAU_STAT_GRAD, sc: TAU_STAT_CE,
    majors: TAU_TICKS, minors: steps(0.2, 2.0, 0.2), dec: 0,
    name: '{i|τ}{sub|R}{r| (fm/}{i|c}{r|)}', labelDx: 318 },
  { col: 0, row: 2, prior: ALPHA_PRIOR, grad: ALPHA_GRAD, ce: ALPHA_CE, sg: ALPHA_STAT_GRAD, sc: ALPHA_STAT_CE,
    majors: ALPHA_TICKS, minors: steps(-0.35, 0.35, 0.05), dec: 2, name: '{i|α}', labelDx: 2 },
  { col: 1, row: 2, prior: B_PRIOR, grad: B_GRAD, ce: B_CE, sg: B_STAT_GRAD, sc: B_STAT_CE,
    majors: B_TICKS, minors: steps(1.5, 8.5, 0.5), dec: 1, name: '{i|b}{sub|π}', labelDx: 340 },
  { col: 2, row: 2, prior: TSW_PRIOR, grad: TSW_GRAD, ce: TSW_CE, sg: TSW_STAT_GRAD, sc: TSW_STAT_CE,
    majors: TSW_TICKS, minors: steps(0.13, 0.165, 0.005), dec: 2, name: '{i|T}{subr|sw}{r| (GeV)}', labelDx: 293 }
];

const measureCtx = document.createElement('canvas').getContext('2d');
function textWidth(s, size) {
  measureCtx.font = size + 'px "Liberation Serif"';
  return measureCtx.measureText(s).width;
}

const STAT_MAIN = 33, STAT_SCRIPT = 26;
function statLabel(x, yc, color, st) {
  const main = signed(st[0]);
  const sup = '+' + String(st[1]);
  const sub = '\u2212' + String(st[2]);
  const w = textWidth(main, STAT_MAIN) + 1;
  const mk = (t, xx, yy, fs) => ({ type: 'text', x: xx, y: yy, z: 100, silent: true,
    style: { text: t, fill: color, fontFamily: FONT, fontSize: fs, align: 'left', verticalAlign: 'middle' } });
  return [mk(main, x, yc, STAT_MAIN), mk(sup, x + w, yc - 10, STAT_SCRIPT), mk(sub, x + w, yc + 12, STAT_SCRIPT)];
}

PARAM_PANELS.forEach(p => {
  const box = { left: COL_LEFT[p.col], top: ROW_TOP[p.row], width: BOX_W, height: BOX_H };
  const g = addGrid(box);
  const span = p.prior[1] - p.prior[0];
  const xmin = p.prior[0] - 0.05 * span, xmax = p.prior[1] + 0.05 * span;
  const xi = addXAxes(g, { min: xmin, max: xmax, majors: p.majors, minors: p.minors.filter(v => v >= xmin && v <= xmax),
    dec: p.dec, fs: 42, margin: 3, majLen: 13, minLen: 8,
    name: p.name, nameGap: 36, nameFs: 46, rich: BOT_RICH });
  const yi = addYAxes(g, { min: -0.05, max: 1.05 });
  const gLo = p.sg[0] - p.sg[2], gHi = p.sg[0] + p.sg[1];
  const cLo = p.sc[0] - p.sc[2], cHi = p.sc[0] + p.sc[1];
  option.series.push(priorRect(xi, yi, p.prior, PRIOR_HEIGHT, 1));
  option.series.push(spanRect(xi, yi, gLo, gHi, GREEN_FILL, 2));
  option.series.push(spanRect(xi, yi, cLo, cHi, PURPLE_FILL, 3));
  option.series.push(curveSeries(xi, yi, p.grad, GREEN, 'solid', 3.6, 4));
  option.series.push(curveSeries(xi, yi, p.ce, PURPLE, [11, 5], 3.6, 5));
  option.series.push(medianLine(xi, yi, p.sg[0], GREEN, 6));
  option.series.push(medianLine(xi, yi, p.sc[0], PURPLE, 7));
  option.series.push(frameSeries(xi, yi, p.prior[0], 0));
  const lx = box.left + p.labelDx;
  option.graphic.push(...statLabel(lx, box.top + 33, GREEN, p.sg));
  option.graphic.push(...statLabel(lx, box.top + 95, PURPLE, p.sc));
});

// ---------- legends ----------
const legendFills = [
  { fill: PRIOR_GRAY, stroke: 'none' },
  { fill: GREEN_FILL, stroke: 'none' },
  { fill: PURPLE_FILL, stroke: 'none' },
  { fill: 'none', stroke: GREEN, dash: null },
  { fill: 'none', stroke: PURPLE, dash: [15, 6.4] }
];
TOP_LEGEND.forEach((label, k) => {
  const cy = 91 + k * 51.7;
  const st = legendFills[k];
  const rectStyle = { fill: st.fill };
  if (st.stroke !== 'none') { rectStyle.stroke = st.stroke; rectStyle.lineWidth = 4; if (st.dash) rectStyle.lineDash = st.dash; }
  option.graphic.push({ type: 'rect', x: 971, y: cy - 17, z: 100, silent: true,
    shape: { x: 0, y: 0, width: 94, height: 34 }, style: rectStyle });
  option.graphic.push({ type: 'text', x: 1080, y: cy, z: 100, silent: true,
    style: { text: label, fill: '#000', fontFamily: FONT, fontSize: 50, align: 'left', verticalAlign: 'middle' } });
});

const legendText = (t, x, y, color) => ({ type: 'text', x: x, y: y, z: 100, silent: true,
  style: { text: t, fill: color, fontFamily: FONT, fontSize: 36, align: 'left', verticalAlign: 'middle' } });
option.graphic.push(legendText('Grad: 60% CI', 45, 753, GREEN));
option.graphic.push(legendText('CE: 60% CI', 45, 789, PURPLE));
option.graphic.push({ type: 'rect', x: 44, y: 812, z: 100, silent: true,
  shape: { x: 0, y: 0, width: 65, height: 21 }, style: { fill: PRIOR_GRAY } });
option.graphic.push(legendText('Prior', 122, 823, '#000'));

const chart = echarts.init(document.getElementById('chart'), null, { renderer: 'canvas', width: 1516, height: 1954 });
chart.setOption(option);
</script>
</body>
</html>
